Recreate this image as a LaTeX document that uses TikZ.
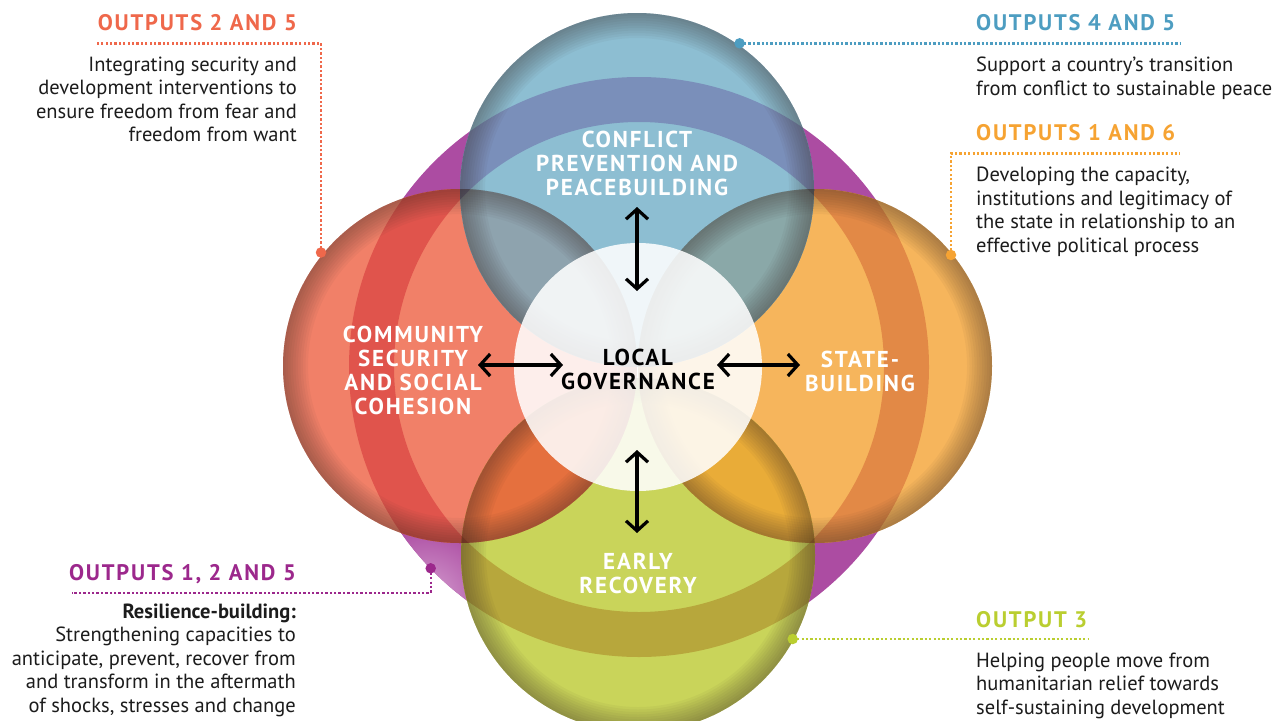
\documentclass[tikz,border=0pt]{standalone}
\usepackage{fontspec}
\setmainfont{PT Sans}
\newfontfamily\capsfont[LetterSpace=8]{PT Sans}
\usetikzlibrary{arrows.meta}
\definecolor{ringpurple}{RGB}{172,76,162}
\definecolor{ringlight}{RGB}{214,162,210}
\definecolor{blueC}{RGB}{141,190,210}
\definecolor{blueBand}{RGB}{122,143,186}
\definecolor{redC}{RGB}{241,128,104}
\definecolor{redBand}{RGB}{224,84,76}
\definecolor{orangeC}{RGB}{246,181,92}
\definecolor{orangeBand}{RGB}{226,137,70}
\definecolor{greenC}{RGB}{201,212,90}
\definecolor{greenBand}{RGB}{183,167,60}
\definecolor{lensRB}{RGB}{142,163,174}
\definecolor{lensOB}{RGB}{138,168,168}
\definecolor{lensRG}{RGB}{229,112,62}
\definecolor{lensOG}{RGB}{233,172,56}
\definecolor{lensRBd}{RGB}{110,118,150}
\definecolor{lensOBd}{RGB}{112,130,140}
\definecolor{lensRGd}{RGB}{200,82,52}
\definecolor{lensOGd}{RGB}{214,140,46}
\definecolor{rimdark}{RGB}{55,40,35}
\definecolor{c25}{RGB}{239,104,75}
\definecolor{c45}{RGB}{77,157,193}
\definecolor{c16}{RGB}{246,163,50}
\definecolor{c125}{RGB}{156,40,140}
\definecolor{c3}{RGB}{186,206,48}
\definecolor{bodytext}{RGB}{28,28,28}
\tikzset{
  hdr/.style={inner sep=0pt, font=\fontsize{22.5}{24}\selectfont\capsfont\bfseries},
  circlabel/.style={inner sep=0pt, text=white, align=center, font=\fontsize{23}{24}\selectfont\capsfont\bfseries},
  bodytxt/.style={inner sep=0pt, text=bodytext, font=\fontsize{20.5}{23.5}\selectfont},
  dotline/.style={line width=2.4pt, dash pattern=on 2.3pt off 2.1pt},
  calldot/.style={circle, inner sep=0pt, minimum size=10.5pt},
  dblarrow/.style={line width=3.2pt, {Straight Barb[length=10pt,width=22pt]}-{Straight Barb[length=10pt,width=22pt]}},
}
\begin{document}
\begin{tikzpicture}[x=1pt,y=-1pt]
\useasboundingbox (0,0) rectangle (1287,720);
\fill[white] (0,0) rectangle (1287,720);
% centres
\coordinate (cC) at (639,367);
\coordinate (cB) at (637,190);
\coordinate (cR) at (460,366);
\coordinate (cO) at (815,366);
\coordinate (cG) at (638,555);
\coordinate (cW) at (638,367);
\coordinate (hiL) at (425,600);
% purple ring
\fill[ringpurple, even odd rule] (cC) circle (290pt) (cC) circle (245pt);
\begin{scope}[even odd rule]
  \clip (cC) circle (290pt) (cC) circle (245pt);
  \shade[inner color=ringlight, outer color=ringpurple] (hiL) circle (75pt);
\end{scope}
% circles
\foreach \c/\col in {cR/redC, cO/orangeC, cG/greenC, cB/blueC}
  {\fill[\col] (\c) circle (177pt);}
% bands
\foreach \c/\col in {cR/redBand, cO/orangeBand, cG/greenBand, cB/blueBand}
  {\begin{scope}
     \clip (\c) circle (177pt);
     \fill[\col, even odd rule] (cC) circle (290pt) (cC) circle (245pt);
   \end{scope}}
% lenses
\foreach \a/\b/\col/\dcol in {cR/cB/lensRB/lensRBd, cO/cB/lensOB/lensOBd, cR/cG/lensRG/lensRGd, cO/cG/lensOG/lensOGd}
  {\begin{scope}
     \clip (\a) circle (177pt);
     \fill[\col] (\b) circle (177pt);
     \clip (\b) circle (177pt);
     \fill[\dcol, even odd rule] (cC) circle (290pt) (cC) circle (245pt);
   \end{scope}}
% rim shading
\foreach \c in {cR,cO,cG,cB}
  {\foreach \k in {1,...,10}
    {\pgfmathsetmacro{\rr}{177-2.5*\k}
     \fill[rimdark, fill opacity=0.045, even odd rule] (\c) circle (177pt) (\c) circle (\rr pt);}}
% central circle
\fill[white, fill opacity=0.87] (cW) circle (124pt);
% circle labels
\node[circlabel] (lblB) at (637,163) {CONFLICT\\PREVENTION AND\\PEACEBUILDING};
\node[circlabel] (lblR) at (413,370) {COMMUNITY\\SECURITY\\AND SOCIAL\\COHESION};
\node[circlabel] (lblO) at (860,371.5) {STATE-\\BUILDING};
\node[circlabel] (lblG) at (638,573) {EARLY\\RECOVERY};
\node[circlabel, text=black] (lblW) at (638,369) {LOCAL\\GOVERNANCE};
% arrows
\coordinate (aT1) at (637,207); \coordinate (aT2) at (637,291);
\coordinate (aB1) at (637,450); \coordinate (aB2) at (637,533);
\coordinate (aL1) at (478,365); \coordinate (aL2) at (563,365);
\coordinate (aR1) at (717,365); \coordinate (aR2) at (800,365);
\draw[dblarrow] (aT1) -- (aT2);
\draw[dblarrow] (aB1) -- (aB2);
\draw[dblarrow] (aL1) -- (aL2);
\draw[dblarrow] (aR1) -- (aR2);
% callout: outputs 2 and 5
\node[hdr, text=c25, anchor=base east] (h25) at (297,30.7) {OUTPUTS 2 AND 5};
\node[bodytxt, anchor=north east, align=right] (t25) at (297,56.5) {Integrating security and\\development interventions to\\ensure freedom from fear and\\freedom from want};
\node[calldot, fill=c25] (d25) at (321,252.5) {};
\coordinate (k25) at (321,43.3); \coordinate (e25) at (97,43.3);
\draw[dotline, c25] (d25.center) -- (k25) -- (e25);
% callout: outputs 4 and 5
\node[hdr, text=c45, anchor=base west] (h45) at (976,30.7) {OUTPUTS 4 AND 5};
\node[bodytxt, anchor=north west, align=left] (t45) at (976,57) {Support a country’s transition\\from conflict to sustainable peace};
\node[calldot, fill=c45] (d45) at (739.6,43.3) {};
\coordinate (e45) at (1180,43.3);
\draw[dotline, c45] (d45.center) -- (e45);
% callout: outputs 1 and 6
\node[hdr, text=c16, anchor=base west] (h16) at (976,140) {OUTPUTS 1 AND 6};
\node[bodytxt, anchor=north west, align=left] (t16) at (976,167) {Developing the capacity,\\institutions and legitimacy of\\the state in relationship to an\\effective political process};
\node[calldot, fill=c16] (d16) at (951,255) {};
\coordinate (k16) at (951,153.3); \coordinate (e16) at (1180,153.3);
\draw[dotline, c16] (d16.center) -- (k16) -- (e16);
% callout: outputs 1, 2 and 5
\node[hdr, text=c125, anchor=base east] (h125) at (296,580.7) {OUTPUTS 1, 2 AND 5};
\node[bodytxt, anchor=north east, align=right] (t125) at (296,603.5) {\textbf{Resilience-building:}\\Strengthening capacities to\\anticipate, prevent, recover from\\and transform in the aftermath\\of shocks, stresses and change};
\node[calldot, fill=c125] (d125) at (430.7,568.3) {};
\coordinate (k125) at (430.7,592.7); \coordinate (e125) at (72,592.7);
\draw[dotline, c125] (d125.center) -- (k125) -- (e125);
% callout: output 3
\node[hdr, text=c3, anchor=base west] (h3) at (976,627.3) {OUTPUT 3};
\node[bodytxt, anchor=north west, align=left] (t3) at (976,652.5) {Helping people move from\\humanitarian relief towards\\self-sustaining development};
\node[calldot, fill=c3] (d3) at (792.7,639) {};
\coordinate (e3) at (1088,639);
\draw[dotline, c3] (d3.center) -- (e3);
\end{tikzpicture}
\end{document}
